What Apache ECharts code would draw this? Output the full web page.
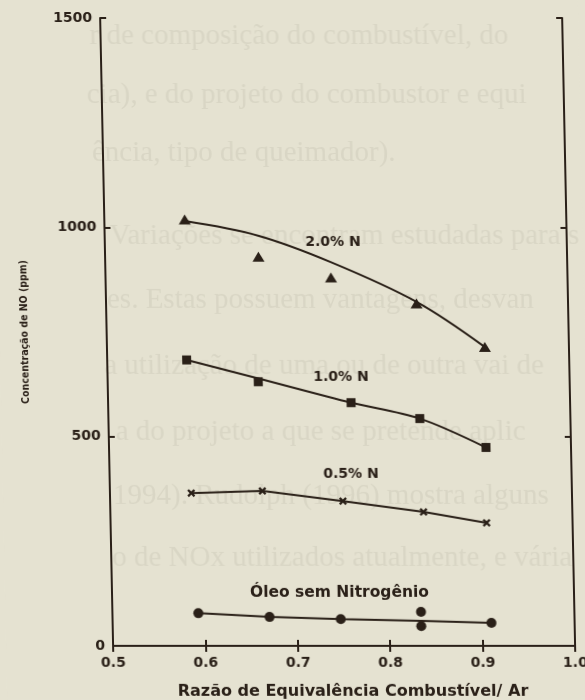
<!DOCTYPE html>
<html>
<head>
<meta charset="utf-8">
<script src="https://cdn.jsdelivr.net/npm/echarts@6/dist/echarts.min.js"></script>
<style>
  html, body { margin: 0; padding: 0; background: #e5e2d1; overflow: hidden; }
  /* the scanned figure leans a little: top edge sits left of the bottom edge */
  #chart { width: 585px; height: 700px; transform: skewX(1.18deg); transform-origin: 50% 50%; }
</style>
</head>
<body>
<div id="chart"></div>
<script>
// equivalence ratio (x) and NO concentration in ppm (y)
const phi20 = [0.587, 0.666, 0.744, 0.836, 0.909]
const no20 = [1019, 930, 880, 818, 714]
const fit20 = [1015, 980, 917, 822, 714]

const phi10 = [0.586, 0.663, 0.763, 0.837, 0.908]
const no10 = [683, 631, 581, 543, 474]
const fit10 = [683, 639, 581, 543, 474]

const phi05 = [0.588, 0.665, 0.752, 0.839, 0.907]
const no05 = [365, 370, 346, 320, 294]

const phi00 = [0.593, 0.670, 0.747, 0.834, 0.834, 0.910]
const no00 = [78, 69, 64, 81, 47, 55]
const phiFit00 = [0.593, 0.670, 0.747, 0.834, 0.910]
const fit00 = [78, 69, 64, 60, 55]

const curveLabels = ['2.0% N', '1.0% N', '0.5% N', 'Óleo sem Nitrogênio']
const labelPhi = [0.747, 0.7526, 0.7613, 0.7462]
const labelNo = [965, 642, 411, 127]
const labelSize = [14, 14, 14, 15.5]

// faint page text showing through the scan
const pageLines = [
  'r de composição do combustível, do',
  'cia), e do projeto do combustor e equi',
  'ência, tipo de queimador).',
  'Variações se encontram estudadas para s',
  'es. Estas possuem vantagens, desvan',
  'a utilização de uma ou de outra vai de',
  'a do projeto a que se pretende aplic',
  '1994). Rudolph (1996) mostra alguns',
  'o de NOx utilizados atualmente, e vária'
]
const pageLineX = [96, 92, 96, 112, 108, 104, 114, 110, 108]
const pageLineY = [22, 81, 139, 222, 286, 352, 418, 482, 544]

const ink = '#2a2018'
const font = 'DejaVu Sans'

const zip = (xs, ys) => xs.map((x, i) => [x, ys[i]])

const chart = echarts.init(document.getElementById('chart'))

const tickStyle = { show: true, inside: true, length: 6, lineStyle: { color: ink, width: 2 } }
const lineStyle = { color: ink, width: 2 }

const lineSeries = (data, smooth) => ({
  type: 'line',
  data,
  smooth,
  symbol: 'none',
  lineStyle: { color: ink, width: 2 },
  z: 2
})

const markSeries = (data, symbol, size) => ({
  type: 'scatter',
  data,
  symbol,
  symbolSize: size,
  itemStyle: { color: ink, opacity: 1 },
  z: 3
})

const crossPath = 'path://M0,2L2,0L5,3L8,0L10,2L7,5L10,8L8,10L5,7L2,10L0,8L3,5Z'

const option = {
  backgroundColor: '#e5e2d1',
  animation: false,
  graphic: pageLines.map((t, i) => ({
    type: 'text',
    left: pageLineX[i],
    top: pageLineY[i],
    z: -10,
    silent: true,
    style: {
      text: t,
      fill: '#d9d6c5',
      font: '29px "Liberation Serif", serif'
    }
  })),
  grid: { left: 107, right: 16, top: 18, bottom: 54, outerBoundsMode: 'none' },
  xAxis: [
    {
      type: 'value',
      min: 0.5,
      max: 1.0,
      interval: 0.1,
      axisLine: { lineStyle },
      axisTick: tickStyle,
      splitLine: { show: false },
      axisLabel: {
        color: ink,
        fontFamily: font,
        fontWeight: 'bold',
        fontSize: 14,
        margin: 10,
        formatter: v => v.toFixed(1)
      },
      name: 'Razão de Equivalência Combustível/ Ar',
      nameLocation: 'middle',
      nameGap: 38,
      nameTextStyle: {
        color: ink,
        fontFamily: font,
        fontWeight: 'bold',
        fontSize: 16,
        padding: [0, 0, 0, 16]
      }
    },
    {
      type: 'value',
      position: 'top',
      min: 0.5,
      max: 1.0,
      interval: 0.1,
      axisLine: { show: true, lineStyle },
      axisTick: tickStyle,
      axisLabel: { show: false },
      splitLine: { show: false }
    }
  ],
  yAxis: [
    {
      type: 'value',
      min: 0,
      max: 1500,
      interval: 500,
      axisLine: { show: true, lineStyle },
      axisTick: tickStyle,
      splitLine: { show: false },
      axisLabel: {
        color: ink,
        fontFamily: font,
        fontWeight: 'bold',
        fontSize: 14,
        margin: 8,
        formatter: v => String(v)
      },
      name: 'Concentração de NO (ppm)',
      nameLocation: 'middle',
      nameGap: 76,
      nameTextStyle: {
        color: ink,
        fontFamily: '"Liberation Sans Narrow", "DejaVu Sans Condensed", "Liberation Sans"',
        fontWeight: 'bold',
        fontSize: 10.5
      }
    },
    {
      type: 'value',
      position: 'right',
      min: 0,
      max: 1500,
      interval: 500,
      axisLine: { show: true, lineStyle },
      axisTick: tickStyle,
      axisLabel: { show: false },
      splitLine: { show: false }
    }
  ],
  series: [
    lineSeries(zip(phi20, fit20), 0.35),
    markSeries(zip(phi20, no20), 'triangle', [12, 10]),
    lineSeries(zip(phi10, fit10), 0.3),
    markSeries(zip(phi10, no10), 'rect', 9),
    lineSeries(zip(phi05, no05), false),
    markSeries(zip(phi05, no05), crossPath, 8),
    lineSeries(zip(phiFit00, fit00), false),
    markSeries(zip(phi00, no00), 'circle', 10),
    {
      type: 'scatter',
      symbolSize: 0,
      itemStyle: { opacity: 1 },
      data: curveLabels.map((t, i) => ({
        value: [labelPhi[i], labelNo[i]],
        name: t,
        label: { fontSize: labelSize[i] }
      })),
      label: {
        show: true,
        position: 'inside',
        formatter: p => p.name,
        color: ink,
        textBorderWidth: 0,
        fontFamily: font,
        fontWeight: 'bold',
        fontSize: 14
      },
      z: 4
    }
  ]
}

chart.setOption(option)
</script>
</body>
</html>
